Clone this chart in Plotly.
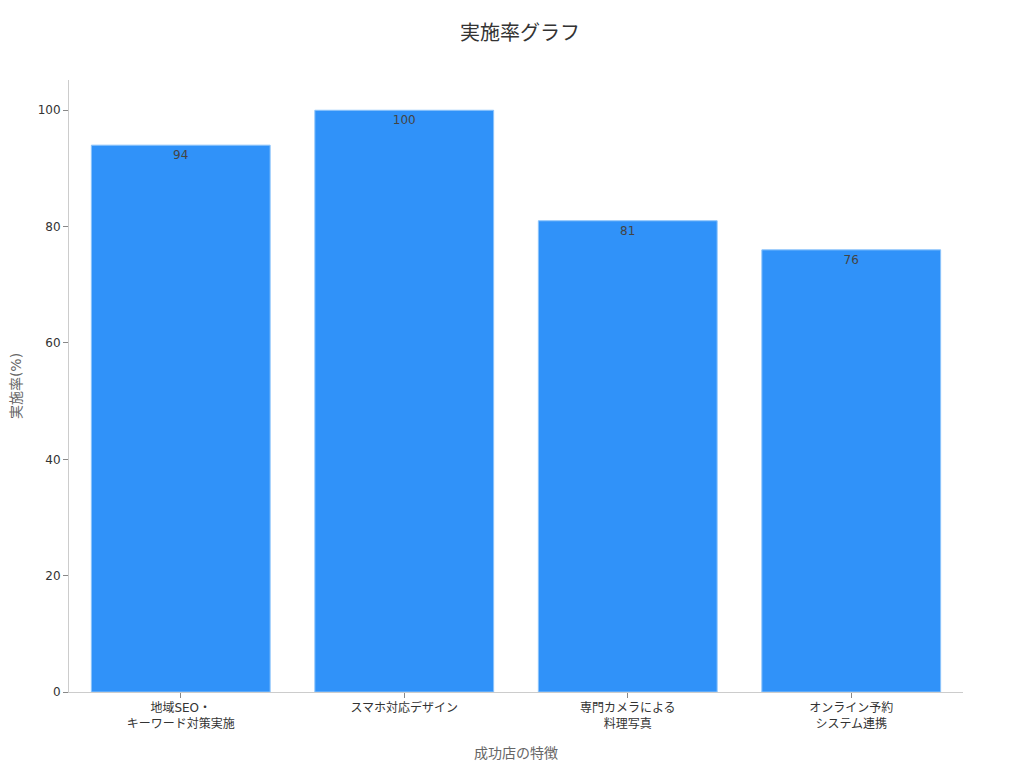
import plotly.graph_objects as go

categories = ["地域SEO・<br>キーワード対策実施", "スマホ対応デザイン", "専門カメラによる<br>料理写真", "オンライン予約<br>システム連携"]
values = [94, 100, 81, 76]
y_ticks = [0, 20, 40, 60, 80, 100]

FONT = "DejaVu Sans, Noto Sans CJK JP, sans-serif"

fig = go.Figure(go.Bar(
    x=categories, y=values,
    text=[str(v) for v in values],
    textposition="inside", insidetextanchor="end",
    textfont=dict(color="#444444", size=12, family=FONT),
    marker=dict(color="#3092F9", line=dict(color="#8CC4FB", width=1)),
))
fig.update_layout(
    width=1024, height=768,
    paper_bgcolor="white", plot_bgcolor="white",
    margin=dict(l=61, r=69, t=72, b=84),
    bargap=0.2,
    font=dict(family=FONT, size=12, color="#333333"),
    title=dict(text="実施率グラフ", x=0.5, xanchor="center", y=0.968, yanchor="middle",
               font=dict(size=20, color="#333333", family=FONT)),
    showlegend=False,
)
fig.update_xaxes(title=dict(text="成功店の特徴", font=dict(size=14, color="#666666"), standoff=18),
                 showline=True, linecolor="#cccccc", ticks="outside", tickcolor="#888888",
                 ticklen=5, tickfont=dict(size=12, color="#333333"), automargin=False)
fig.update_yaxes(title=dict(text="実施率(%)", font=dict(size=14, color="#666666"), standoff=18),
                 range=[0, 105.2], tickvals=y_ticks, showline=True, linecolor="#cccccc",
                 ticks="outside", tickcolor="#888888", ticklen=5, showgrid=False, zeroline=False,
                 tickfont=dict(size=12, color="#333333"), automargin=False)
fig.write_html("out.html")
